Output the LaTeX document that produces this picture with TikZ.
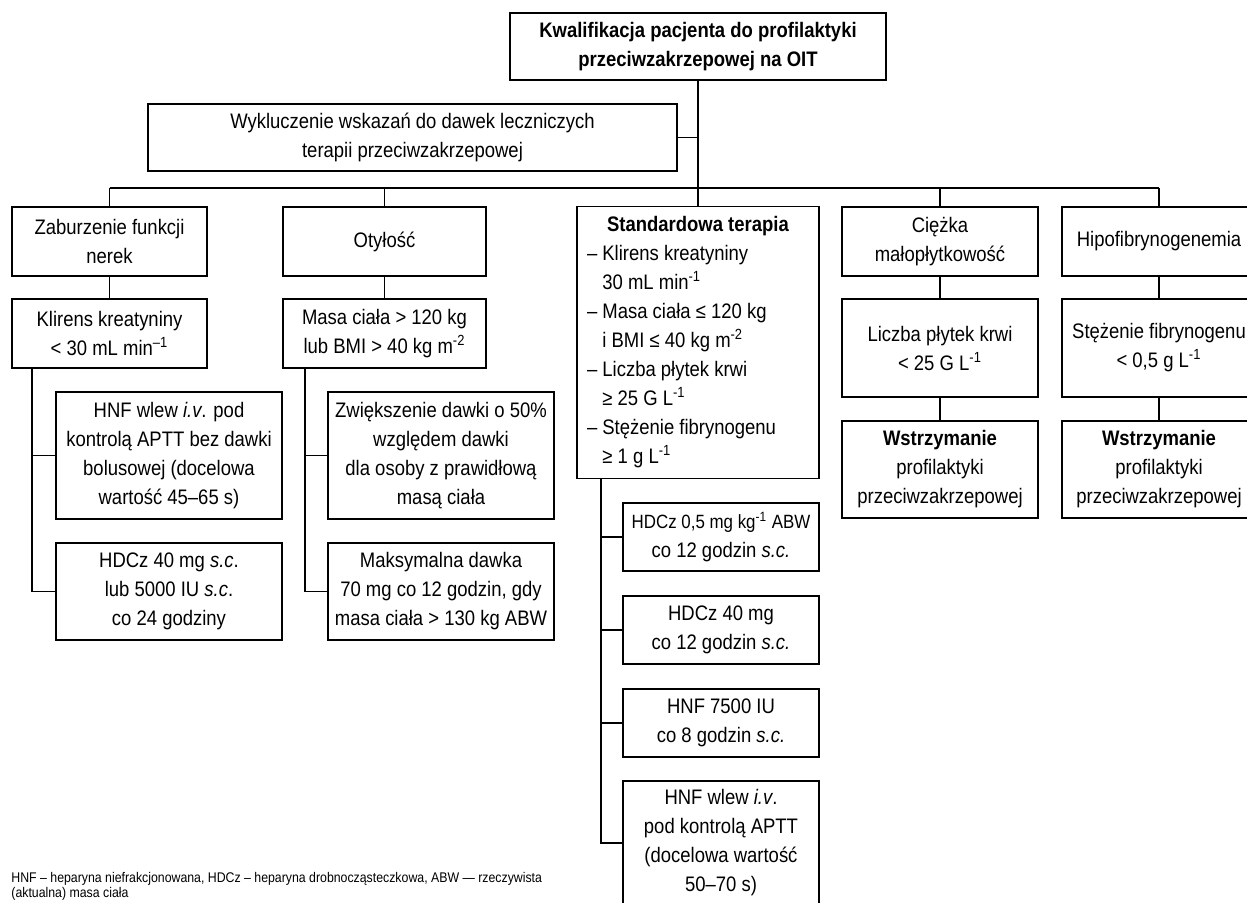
\documentclass[tikz,border=0pt]{standalone}
\usepackage{fontspec}
\setmainfont{Liberation Sans}[FakeStretch=0.88]
\usepackage{tikz}
\usetikzlibrary{positioning}

\begin{document}
\begin{tikzpicture}[
    x=0.5pt, y=-0.5pt,
    font=\fontsize{10.5}{14.5}\selectfont,
    box/.style={draw, line width=0.75pt, align=center, inner sep=2pt, outer sep=0pt},
    wh/.style 2 args={minimum width=#1, minimum height=#2},
    link/.style={line width=0.75pt},
    note/.style={font=\fontsize{7}{7.5}\selectfont, align=left, anchor=north west, inner sep=0pt}
]
    \useasboundingbox (0,0) rectangle (1247,902);

    % Top: qualification and exclusion
    \node[box, wh={188pt}{33.5pt}] (top) at (698,46.5) {\textbf{Kwalifikacja pacjenta do profilaktyki}\\\textbf{przeciwzakrzepowej na OIT}};
    \node[box, wh={264.5pt}{33.5pt}] (excl) at (412.5,137.5) {Wykluczenie wskazań do dawek leczniczych\\terapii przeciwzakrzepowej};
    \coordinate (bus) at (698,188);

    % Column 1: kidneys
    \node[box, wh={97.5pt}{34.5pt}] (zab) at (109.5,241.5) {Zaburzenie funkcji\\nerek};
    \node[box, wh={97.5pt}{34.5pt}] (klir) at (109.5,333.5) {Klirens kreatyniny\\< 30 mL min\textsuperscript{--1}};
    \node[box, wh={113pt}{63.5pt}] (hnf1) at (169,455.5) {HNF wlew \textit{i.v}. pod\\kontrolą APTT bez dawki\\bolusowej (docelowa\\wartość 45--65 s)};
    \node[box, wh={113pt}{48.5pt}] (hdcz1) at (169,591.5) {HDCz 40 mg \textit{s.c}.\\lub 5000 IU \textit{s.c}.\\co 24 godziny};

    % Column 2: obesity
    \node[box, wh={101.5pt}{34.5pt}] (oty) at (384.5,241.5) {Otyłość};
    \node[box, wh={101.5pt}{34.5pt}] (masa) at (384.5,333.5) {Masa ciała > 120 kg\\lub BMI > 40 kg m\textsuperscript{-2}};
    \node[box, wh={113pt}{63.5pt}] (zwi) at (441,455.5) {Zwiększenie dawki o 50\%\\względem dawki\\dla osoby z prawidłową\\masą ciała};
    \node[box, wh={113pt}{48.5pt}] (maks) at (441,591.5) {Maksymalna dawka\\70 mg co 12 godzin, gdy\\masa ciała > 130 kg ABW};

    % Column 3: standard therapy
    \node[box, wh={121pt}{135.5pt}, text width=111pt, align=flush left, inner sep=5pt] (std) at (698,342.5) {\makebox[\linewidth]{\textbf{Standardowa terapia}}\\
        -- Klirens kreatyniny\\\hphantom{-- }30 mL min\textsuperscript{-1}\\
        -- Masa ciała ≤ 120 kg\\\hphantom{-- }i BMI ≤ 40 kg m\textsuperscript{-2}\\
        -- Liczba płytek krwi\\\hphantom{-- }≥ 25 G L\textsuperscript{-1}\\
        -- Stężenie fibrynogenu\\\hphantom{-- }≥ 1 g L\textsuperscript{-1}};
    \node[box, wh={98pt}{34pt}, inner xsep=1pt, font=\fontsize{9.6}{14.5}\selectfont] (s1) at (721,537) {HDCz 0,5 mg kg\textsuperscript{-1} ABW\\\fontsize{10.5}{14.5}\selectfont co 12 godzin \textit{s.c.}};
    \node[box, wh={98pt}{34pt}] (s2) at (721,630) {HDCz 40 mg\\co 12 godzin \textit{s.c.}};
    \node[box, wh={98pt}{34pt}] (s3) at (721,723) {HNF 7500 IU\\co 8 godzin \textit{s.c.}};
    \node[box, wh={98pt}{62pt}] (s4) at (721,843) {HNF wlew \textit{i.v}.\\pod kontrolą APTT\\(docelowa wartość\\50--70 s)};

    % Column 4: thrombocytopenia
    \node[box, wh={98pt}{34.5pt}] (cie) at (940,241.5) {Ciężka\\małopłytkowość};
    \node[box, wh={98pt}{49pt}] (licz) at (940,348) {Liczba płytek krwi\\< 25 G L\textsuperscript{-1}};
    \node[box, wh={98pt}{48.5pt}] (wst1) at (940,469.5) {\textbf{Wstrzymanie}\\profilaktyki\\przeciwzakrzepowej};

    % Column 5: hypofibrinogenemia
    \node[box, wh={97pt}{34.5pt}] (hipo) at (1159,241.5) {Hipofibrynogenemia};
    \node[box, wh={97pt}{49pt}] (stez) at (1159,348) {Stężenie fibrynogenu\\< 0,5 g L\textsuperscript{-1}};
    \node[box, wh={97pt}{48.5pt}] (wst2) at (1159,469.5) {\textbf{Wstrzymanie}\\profilaktyki\\przeciwzakrzepowej};

    % Connectors
    \draw[link] (top.south) -- (std.north);
    \draw[link] (excl.east) -- (excl.east -| top.south);
    \draw[link] (zab.north |- bus) -- (hipo.north |- bus);
    \foreach \n in {zab,oty,cie,hipo}
        \draw[link] (\n.north) -- (\n.north |- bus);
    \draw[link] (zab) -- (klir);
    \draw[link] (oty) -- (masa);
    \draw[link] (cie) -- (licz) -- (wst1);
    \draw[link] (hipo) -- (stez) -- (wst2);
    \draw[link] ([xshift=10pt]klir.south west) |- (hdcz1.west);
    \draw[link] (hnf1.west) -- ++(-12pt,0);
    \draw[link] ([xshift=11pt]masa.south west) |- (maks.west);
    \draw[link] (zwi.west) -- ++(-11.5pt,0);
    \draw[link] ([xshift=12pt]std.south west) |- (s4.west);
    \foreach \n in {s1,s2,s3}
        \draw[link] (\n.west) -- ++(-11pt,0);

    % Footnote
    \node[note] (fn) at (11,872) {HNF -- heparyna niefrakcjonowana, HDCz -- heparyna drobnocząsteczkowa, ABW --- rzeczywista\\(aktualna) masa ciała};
\end{tikzpicture}
\end{document}
